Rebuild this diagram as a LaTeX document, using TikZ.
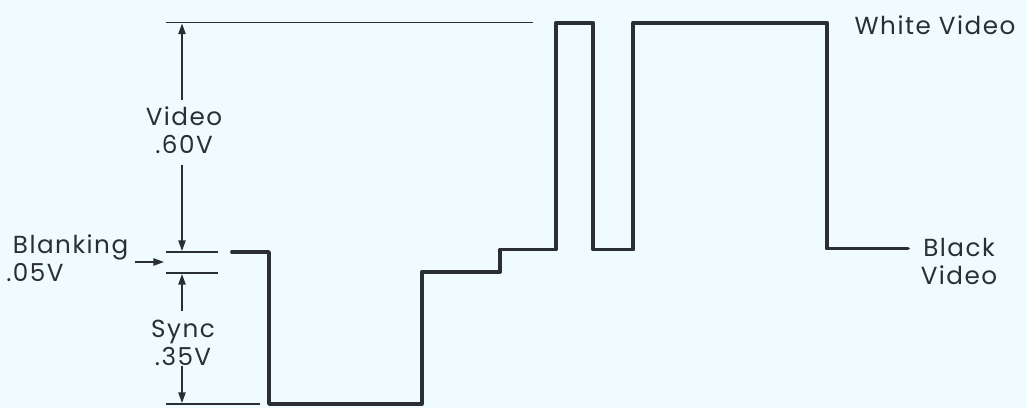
\documentclass[tikz,border=0pt]{standalone}
\usepackage{fontspec}
\setmainfont{Poppins}[LetterSpace=6]
\usetikzlibrary{arrows.meta}
\definecolor{bgc}{HTML}{EFFBFD}
\definecolor{ink}{HTML}{2B2F33}
\tikzset{
  lbl/.style={font=\fontsize{18.5}{21}\selectfont, text=ink, inner sep=0pt, align=center},
  refline/.style={draw=ink, line width=1.1pt},
  dimarrow/.style={draw=ink, line width=1.1pt, -{Triangle[length=8pt,width=5.5pt]}},
  wave/.style={draw=ink, line width=2.8pt, line join=round, line cap=round},
}
\begin{document}
\begin{tikzpicture}[x=0.75pt,y=-0.75pt]
\fill[bgc] (0,0) rectangle (1027,408);
\useasboundingbox (0,0) rectangle (1027,408);
% reference lines
\coordinate (tl1) at (166,22.5);  \coordinate (tl2) at (533,22.5);
\coordinate (bu1) at (166,252);   \coordinate (bu2) at (218,252);
\coordinate (bl1) at (166,273);   \coordinate (bl2) at (218,273);
\coordinate (bb1) at (166,404);   \coordinate (bb2) at (260,404);
\draw[refline] (tl1) -- (tl2);
\draw[refline] (bu1) -- (bu2);
\draw[refline] (bl1) -- (bl2);
\draw[refline] (bb1) -- (bb2);
% labels
\node[lbl] (video) at (184,130) {Video\\.60V};
\node[lbl] (sync) at (183,343) {Sync\\.35V};
\node[lbl, align=left, anchor=west] (blank) at (6,258) {\hspace*{5pt}Blanking\\.05V};
\node[lbl] (white) at (935,25) {White Video};
\node[lbl] (black) at (959,261) {Black\\Video};
% dimension arrows
\coordinate (va) at (182,100); \coordinate (vat) at (182,23.5);
\coordinate (vb) at (182,165); \coordinate (vbt) at (182,251);
\coordinate (sa) at (182,311); \coordinate (sat) at (182,274);
\coordinate (sb) at (182,366); \coordinate (sbt) at (182,403);
\draw[dimarrow] (va) -- (vat);
\draw[dimarrow] (vb) -- (vbt);
\draw[dimarrow] (sa) -- (sat);
\draw[dimarrow] (sb) -- (sbt);
\coordinate (ba) at (135,262); \coordinate (bat) at (164,262);
\draw[dimarrow] (ba) -- (bat);
% waveform
\coordinate (w0) at (232,252);
\coordinate (w1) at (269,252);
\coordinate (w2) at (269,404);
\coordinate (w3) at (421.7,404);
\coordinate (w4) at (421.7,271.7);
\coordinate (w5) at (500,271.7);
\coordinate (w6) at (500,249.5);
\coordinate (w7) at (555.7,249.5);
\coordinate (w8) at (555.7,22.7);
\coordinate (w9) at (593.3,22.7);
\coordinate (w10) at (593.3,249.5);
\coordinate (w11) at (633.3,249.5);
\coordinate (w12) at (633.3,22.7);
\coordinate (w13) at (826.7,22.7);
\coordinate (w14) at (826.7,248.5);
\coordinate (w15) at (908,248.5);
\draw[wave] (w0) -- (w1) -- (w2) -- (w3) -- (w4) -- (w5) -- (w6) -- (w7) -- (w8) -- (w9) -- (w10) -- (w11) -- (w12) -- (w13) -- (w14) -- (w15);
\end{tikzpicture}
\end{document}
